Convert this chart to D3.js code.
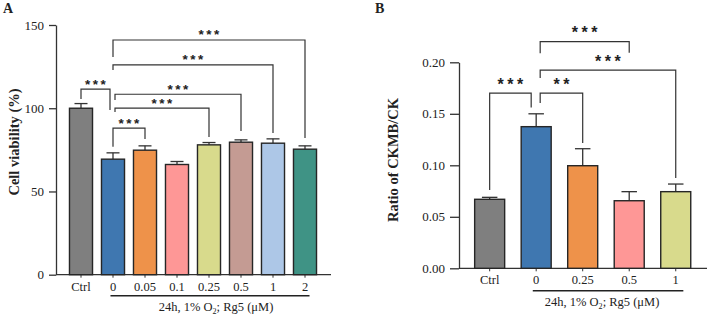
<!DOCTYPE html>
<html>
<head>
<meta charset="utf-8">
<script src="https://cdn.jsdelivr.net/npm/d3@7"></script>
<style>
  body { margin: 0; background: #fff; }
  svg text { font-family: "Liberation Serif", "Times New Roman", serif; fill: #222; }
  .stars { font-family: "Liberation Sans", Arial, sans-serif !important; font-weight: bold; }
</style>
</head>
<body>
<svg id="chart" width="708" height="315"></svg>
<script>
// panel A - cell viability
const catsA = ["Ctrl", "0", "0.05", "0.1", "0.25", "0.5", "1", "2"];
const viability = [100, 69.4, 74.8, 66.2, 78, 79.6, 79, 75.4];
const viabilityErr = [2.8, 3.8, 2.6, 1.8, 1.4, 1.4, 2.6, 2.0];
const ticksA = [0, 50, 100, 150];
const colorsA = ["#7f7f7f", "#3f77b0", "#ee924a", "#fe9796", "#d8da8c", "#c49b93", "#adc7e7", "#3f9385"];
const sigA = [["Ctrl", "0", "***"], ["0", "0.05", "***"], ["0", "0.25", "***"], ["0", "0.5", "***"], ["0", "1", "***"], ["0", "2", "***"]];
const sigTopA = [111.5, 88.1, 100.1, 108.4, 126, 141];
const sigLeftA = [105.5, 76.9, 97.7, 104.9, 123, 130.8];
const sigRightA = [99, 81.5, 82.7, 86.3, 85.1, 82.1];

// panel B - CKMB/CK ratio
const catsB = ["Ctrl", "0", "0.25", "0.5", "1"];
const ratio = [0.067, 0.1375, 0.0996, 0.0656, 0.0744];
const ratioErr = [0.0019, 0.0125, 0.0165, 0.0088, 0.0074];
const ticksB = [0, 0.05, 0.10, 0.15, 0.20];
const colorsB = ["#7f7f7f", "#3f77b0", "#ee924a", "#fe9796", "#d8da8c"];
const sigB = [["Ctrl", "0", "***"], ["0", "0.25", "**"], ["0", "1", "***"], ["0", "0.5", "***"]];
const sigTopB = [0.170, 0.170, 0.1925, 0.22];
const sigLeftB = [0.076, 0.1605, 0.1848, 0.2087];
const sigRightB = [0.156, 0.1217, 0.0877, 0.2093];

const treatment = "24h, 1% O";

const svg = d3.select("#chart");
svg.append("rect").attr("width", 708).attr("height", 315).attr("fill", "#fff");

function drawPanel(o) {
    const g = svg.append("g");
    const x = d3.scaleBand().domain(o.cats).range(o.xRange)
        .paddingInner(o.pad).paddingOuter(o.pad / 2);
    const y = d3.scaleLinear().domain(o.yDomain).range(o.yRange);
    const bw = x.bandwidth();

    // y axis
    g.append("g")
        .attr("transform", `translate(${o.axisX},0)`)
        .call(d3.axisLeft(y).tickValues(o.ticks).tickSize(o.tick).tickSizeOuter(0).tickFormat(o.fmt))
        .call(a => a.selectAll("path, line").attr("stroke", "#333").attr("stroke-width", 1.3))
        .call(a => a.selectAll("text").attr("font-size", o.fs + 0.5).attr("font-family", "Liberation Serif").attr("fill", "#222").attr("dx", -2));

    // x axis
    g.append("g")
        .attr("transform", `translate(0,${y(0)})`)
        .call(d3.axisBottom(x).tickSize(3).tickPadding(4))
        .call(a => a.select(".domain").remove())
        .call(a => a.selectAll("line").attr("stroke", "#333"))
        .call(a => a.selectAll("text").attr("font-size", o.fs).attr("font-family", "Liberation Serif").attr("fill", "#222"));
    g.append("line")
        .attr("x1", o.axisX).attr("x2", o.axisEnd)
        .attr("y1", y(0)).attr("y2", y(0))
        .attr("stroke", "#333").attr("stroke-width", 1.3);

    // error bars
    o.vals.forEach((v, i) => {
        const cx = x(o.cats[i]) + bw / 2;
        g.append("line").attr("x1", cx).attr("x2", cx)
            .attr("y1", y(v)).attr("y2", y(v + o.err[i]))
            .attr("stroke", "#333").attr("stroke-width", 1.3);
        g.append("line").attr("x1", cx - o.cap / 2).attr("x2", cx + o.cap / 2)
            .attr("y1", y(v + o.err[i])).attr("y2", y(v + o.err[i]))
            .attr("stroke", "#333").attr("stroke-width", 1.3);
    });

    // bars
    g.selectAll(".bar").data(o.vals).join("rect")
        .attr("x", (d, i) => x(o.cats[i]))
        .attr("y", d => y(d))
        .attr("width", bw)
        .attr("height", d => y(0) - y(d))
        .attr("fill", (d, i) => o.colors[i])
        .attr("stroke", "#262626")
        .attr("stroke-width", 1.4);

    // significance brackets
    o.sig.forEach((s, i) => {
        const x1 = x(s[0]) + bw / 2 + o.legOff[i][0];
        const x2 = x(s[1]) + bw / 2 + o.legOff[i][1];
        const top = y(o.sigTop[i]);
        g.append("path")
            .attr("d", `M${x1},${y(o.sigLeft[i])}V${top}H${x2}V${y(o.sigRight[i])}`)
            .attr("fill", "none").attr("stroke", "#333").attr("stroke-width", 1.2);
        g.append("text").attr("class", "stars")
            .attr("x", (x1 + x2) / 2 + o.starLs / 2)
            .attr("y", top - o.starGap)
            .attr("text-anchor", "middle")
            .attr("font-size", o.starFs)
            .attr("letter-spacing", o.starLs)
            .text(s[2]);
    });

    // treatment underline and label
    const u1 = x("0") + o.under[0];
    const u2 = x(o.cats[o.cats.length - 1]) + bw + o.under[1];
    g.append("line").attr("x1", u1).attr("x2", u2)
        .attr("y1", o.underY).attr("y2", o.underY)
        .attr("stroke", "#222").attr("stroke-width", 1.6);
    const t = g.append("text").attr("x", (u1 + u2) / 2 + o.titleDx).attr("y", o.titleY)
        .attr("text-anchor", "middle").attr("font-size", o.fs);
    t.append("tspan").text(treatment);
    t.append("tspan").attr("font-size", o.fs * 0.65).attr("dy", 3).text("2");
    t.append("tspan").attr("dy", -3).text("; Rg5 (\u03bcM)");

    // y title
    g.append("text")
        .attr("transform", `translate(${o.yTitleX},${o.yTitleY}) rotate(-90)`)
        .attr("text-anchor", "middle")
        .attr("font-size", 14.5).attr("font-weight", "bold")
        .text(o.yTitle);

    // panel letter
    g.append("text").attr("x", o.letterX).attr("y", 13)
        .attr("font-size", 14).attr("font-weight", "bold")
        .text(o.letter);
}

drawPanel({
    cats: catsA, vals: viability, err: viabilityErr, colors: colorsA, ticks: ticksA,
    fmt: d3.format("d"), yDomain: [0, 150], yRange: [274.7, 25],
    xRange: [65, 321], pad: 0.28, axisX: 56, axisEnd: 331, tick: 7, cap: 13, fs: 12.5,
    sig: sigA, sigTop: sigTopA, sigLeft: sigLeftA, sigRight: sigRightA,
    legOff: [[0, -3], [0, 0], [2, 0], [2, 0], [0, 0], [0, 0]],
    starFs: 13.5, starLs: 2.5, starGap: 0.5,
    under: [9, -7], underY: 295.7, titleY: 311, titleDx: 6,
    yTitle: "Cell viability (%)", yTitleX: 19, yTitleY: 142, letter: "A", letterX: 3
});

drawPanel({
    cats: catsB, vals: ratio, err: ratioErr, colors: colorsB, ticks: ticksB,
    fmt: d3.format(".2f"), yDomain: [0, 0.2], yRange: [268.3, 62.3],
    xRange: [466.4, 699], pad: 0.355, axisX: 459, axisEnd: 707, tick: 9, cap: 15.5, fs: 12.5,
    sig: sigB, sigTop: sigTopB, sigLeft: sigLeftB, sigRight: sigRightB,
    legOff: [[0, -5], [4, 0], [4, 0], [4, 0]],
    starFs: 16, starLs: 3.5, starGap: 3.5,
    under: [11.6, -7.4], underY: 290.7, titleY: 306, titleDx: -6,
    yTitle: "Ratio of CKMB/CK", yTitleX: 398, yTitleY: 160, letter: "B", letterX: 375
});
</script>
</body>
</html>
